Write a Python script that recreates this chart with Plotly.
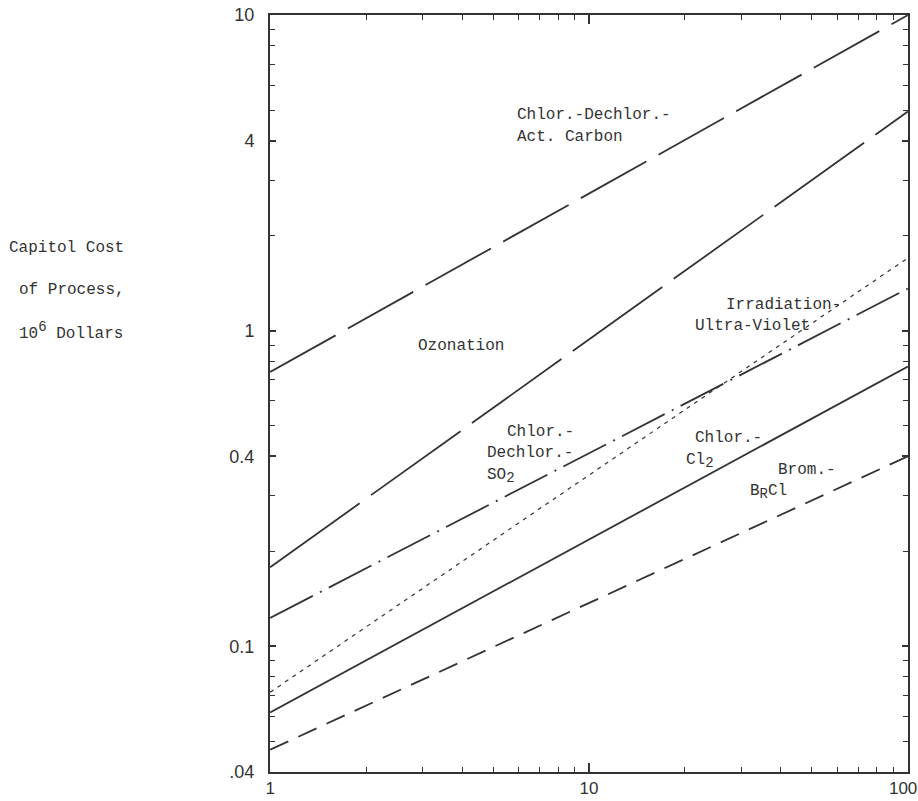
import plotly.graph_objects as go

# ---- data ----
x_ends = [1, 100]
act_carbon = [0.74, 10.0]
ozonation = [0.178, 4.95]
so2 = [0.123, 1.36]
uv = [0.0715, 1.70]
cl2 = [0.0617, 0.77]
brcl = [0.047, 0.40]

y_major = [0.04, 0.1, 0.4, 1, 4, 10]
y_major_text = [".04", "0.1", "0.4", "1", "4", "10"]
y_minor = [0.05, 0.06, 0.07, 0.08, 0.09, 0.2, 0.3, 0.5, 0.6, 0.7, 0.8, 0.9,
           2, 3, 5, 6, 7, 8, 9]
x_major = [1, 10, 100]
x_major_text = ["1", "10", "100&nbsp;&nbsp;"]
x_minor = [2, 3, 4, 5, 6, 7, 8, 9, 20, 30, 40, 50, 60, 70, 80, 90]

INK = "#333333"
MONO = "Liberation Mono, Courier New, monospace"
SANS = "Liberation Sans, Arial, sans-serif"

fig = go.Figure()

def add(yv, dash, width=1.8):
    fig.add_trace(go.Scatter(x=x_ends, y=yv, mode="lines",
                             line=dict(color=INK, width=width, dash=dash),
                             showlegend=False, hoverinfo="skip"))

add(act_carbon, "75px,14px")
add(ozonation, "110px,14px")
add(so2, "48px,8px,2px,8px")
add(uv, "4px,5px", 1.2)
add(cl2, "solid")
add(brcl, "20px,11px")

L, R, T, B = 270, 10, 15, 29
W, H = 918, 801
pw, ph = W - L - R, H - T - B

def px(x):
    return (x - L) / pw

def py(y):
    return (H - B - y) / ph

def sub(s):
    return "<sub><span style='font-size:14px'>" + s + "</span></sub>"

texts = [
    ("Chlor.-Dechlor.-", 515, 115),
    ("Act. Carbon", 515, 137),
    ("Ozonation", 416, 346),
    ("Chlor.-", 505, 432),
    ("Dechlor.-", 485, 453),
    ("SO" + sub("2"), 485, 476),
    ("Irradiation-", 724, 305),
    ("Ultra-Violet", 693, 326),
    ("Chlor.-", 693, 438),
    ("Cl" + sub("2"), 684, 461),
    ("Brom.-", 776, 470),
    ("B" + sub("R") + "Cl", 748, 492),
]
for t, x, y in texts:
    fig.add_annotation(text=t, x=px(x), y=py(y), xref="paper", yref="paper",
                       xanchor="left", yanchor="middle", showarrow=False,
                       font=dict(family=MONO, size=16, color=INK))

ytitle = [("Capitol Cost", 7, 248), ("of Process,", 17, 290),
          ("10<sup><span style='font-size:14px'>6</span></sup> Dollars", 17, 331)]
for t, x, y in ytitle:
    fig.add_annotation(text=t, x=px(x), y=py(y), xref="paper", yref="paper",
                       xanchor="left", yanchor="middle", showarrow=False,
                       font=dict(family=MONO, size=16, color=INK))

fig.update_xaxes(type="log", range=[-0.0005, 2.0005], showgrid=False, zeroline=False,
                 automargin=False,
                 showline=True, linecolor=INK, linewidth=2, mirror="allticks",
                 ticks="inside", ticklen=9, tickwidth=1.5, tickcolor=INK,
                 tickmode="array", tickvals=x_major, ticktext=x_major_text,
                 ticklabeloverflow="allow",
                 tickfont=dict(family=SANS, size=17, color=INK),
                 minor=dict(ticks="inside", ticklen=5, tickwidth=1.2,
                            tickcolor=INK, tickvals=x_minor, showgrid=False))
fig.update_yaxes(type="log", range=[-1.3985, 1.0005], showgrid=False, zeroline=False,
                 automargin=False,
                 showline=True, linecolor=INK, linewidth=2, mirror="allticks",
                 ticks="inside", ticklen=6, tickwidth=1.5, tickcolor=INK,
                 tickmode="array", tickvals=y_major, ticktext=y_major_text,
                 ticklabeloverflow="allow",
                 tickfont=dict(family=SANS, size=18, color=INK),
                 ticklabelstandoff=10,
                 minor=dict(ticks="inside", ticklen=5, tickwidth=1.2,
                            tickcolor=INK, tickvals=y_minor, showgrid=False))

fig.update_layout(width=W, height=H, margin=dict(l=L, r=R, t=T, b=B, autoexpand=False),
                  plot_bgcolor="white", paper_bgcolor="white")

fig.write_html("out.html")
